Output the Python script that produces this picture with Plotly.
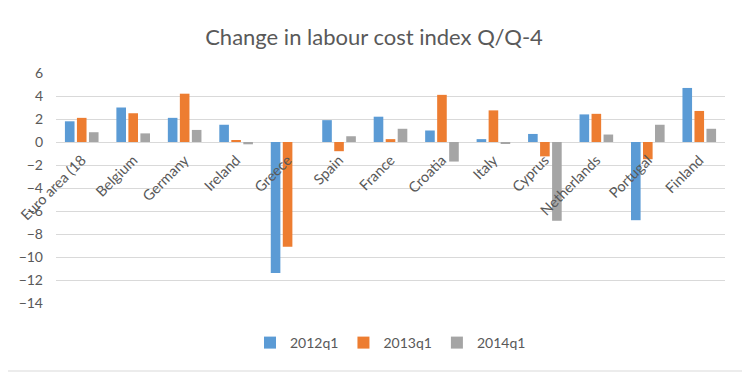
import plotly.graph_objects as go

countries = ["Euro area (18", "Belgium", "Germany", "Ireland", "Greece", "Spain",
             "France", "Croatia", "Italy", "Cyprus", "Netherlands", "Portugal", "Finland"]
s2012q1 = [1.8, 3.0, 2.1, 1.5, -11.4, 1.9, 2.2, 1.0, 0.25, 0.7, 2.4, -6.8, 4.7]
s2013q1 = [2.1, 2.5, 4.2, 0.15, -9.1, -0.8, 0.25, 4.1, 2.75, -1.25, 2.45, -1.5, 2.7]
s2014q1 = [0.85, 0.75, 1.05, -0.2, 0.0, 0.5, 1.15, -1.7, -0.1, -6.85, 0.65, 1.5, 1.15]
series_names = ["2012q1", "2013q1", "2014q1"]
colors = ["#5B9BD5", "#ED7D31", "#A5A5A5"]
yticks = [6, 4, 2, 0, -2, -4, -6, -8, -10, -12, -14]

font_family = "Lato, 'Open Sans', sans-serif"
text_color = "#595959"

# page body has an 8px margin, so the figure is sized to fit the window
W, H = 742, 367
L, T, R, B = 48, 65, 25, 72
pw, ph = W - L - R, H - T - B

fig = go.Figure()
for name, vals, c in zip(series_names, [s2012q1, s2013q1, s2014q1], colors):
    fig.add_trace(go.Bar(x=countries, y=vals, name=name, marker_color=c,
                         marker_line_width=0))

ymin, ymax = -14, 6
zero_pos = (0 - ymin) / (ymax - ymin)

fig.update_layout(
    width=W, height=H,
    margin=dict(l=L, r=R, t=T, b=B, autoexpand=False),
    paper_bgcolor="white", plot_bgcolor="white",
    font=dict(family=font_family, color=text_color, size=14),
    title=dict(text="Change in labour cost index Q/Q-4", x=366 / W, xanchor="center",
               y=1 - 29 / H, yanchor="middle", yref="container",
               font=dict(size=22, color=text_color, family=font_family)),
    barmode="group", bargap=0.3, bargroupgap=0.2,
    showlegend=True,
    legend=dict(orientation="h", x=0.5, xanchor="center", y=-(343 - 8 - (T + ph)) / ph,
                yanchor="middle", font=dict(size=14, color=text_color), itemwidth=30,
                traceorder="normal"),
    xaxis=dict(anchor="free", position=zero_pos, tickangle=-45, showgrid=False,
               showline=False, ticks="", automargin=False, ticklabelstandoff=6,
               tickfont=dict(size=14.5, color=text_color)),
    yaxis=dict(range=[ymin, ymax], tickvals=yticks, showgrid=True, gridcolor="#D9D9D9",
               zeroline=True, zerolinecolor="#D9D9D9", zerolinewidth=1,
               ticks="", automargin=False, ticklabelstandoff=12,
               tickfont=dict(size=14, color=text_color)),
)

# chart frame (right and bottom edges; left/top fall outside the page)
rx = (737 - L) / pw
by = -(363 - (T + ph)) / ph
fig.add_shape(type="line", xref="paper", yref="paper", x0=rx, x1=rx, y0=by, y1=(T + ph) / ph,
              line=dict(color="#D9D9D9", width=1), layer="below")
fig.add_shape(type="line", xref="paper", yref="paper", x0=-L / pw, x1=rx, y0=by, y1=by,
              line=dict(color="#D9D9D9", width=1), layer="below")

fig.write_html("out.html")
